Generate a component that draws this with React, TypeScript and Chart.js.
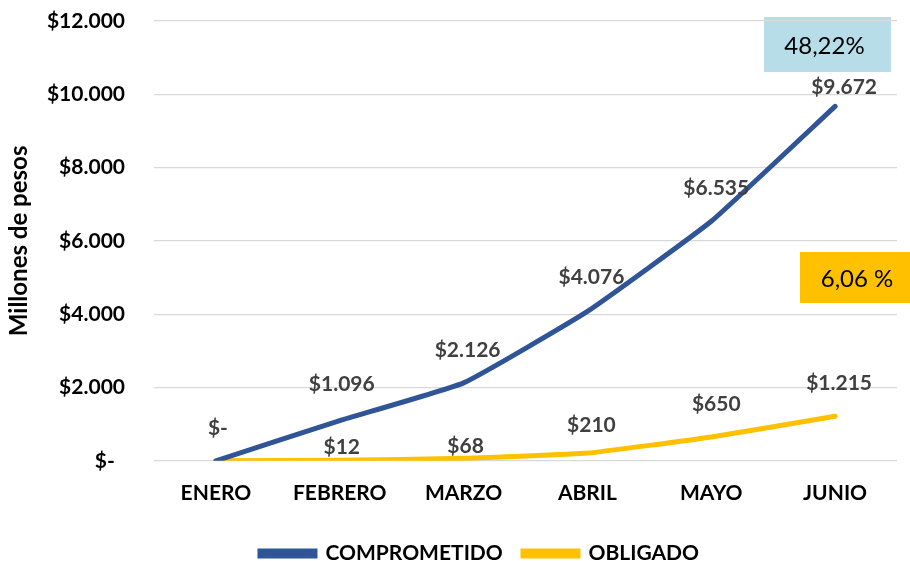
import React, { useEffect, useRef } from 'react';
import { Chart, registerables } from 'chart.js';

Chart.register(...registerables);

const months = ['ENERO', 'FEBRERO', 'MARZO', 'ABRIL', 'MAYO', 'JUNIO'];
const comprometido = [0, 1096, 2126, 4076, 6535, 9672];
const obligado = [0, 12, 68, 210, 650, 1215];
const yTickValues = [0, 2000, 4000, 6000, 8000, 10000, 12000];
const pctComprometido = '48,22%';
const pctObligado = '6,06 %';
const seriesNames = ['COMPROMETIDO', 'OBLIGADO'];
const yTitle = 'Millones de pesos';

const FONT = 'Lato, "Open Sans", sans-serif';

const fmt = (v: number) =>
  v === 0 ? '$-' : '$' + String(Math.round(v)).replace(/\B(?=(\d{3})+(?!\d))/g, '.');

const pointLabelsPlugin = {
  id: 'pointLabels',
  afterDatasetsDraw(chart: any) {
    const ctx = chart.ctx;
    chart.data.datasets.forEach((ds: any, i: number) => {
      const meta = chart.getDatasetMeta(i);
      const lo = ds.labelStyle;
      meta.data.forEach((pt: any, j: number) => {
        if (lo.hide[j]) return;
        ctx.save();
        ctx.font = `bold 21px ${FONT}`;
        ctx.fillStyle = '#404040';
        ctx.textAlign = 'center';
        ctx.textBaseline = 'middle';
        ctx.fillText(fmt(ds.data[j]), pt.x + lo.dx[j], pt.y - lo.dy[j]);
        ctx.restore();
      });
    });
  },
};

const boxesPlugin = {
  id: 'pctBoxes',
  afterLayout(chart: any) {
    if (chart.legend) {
      chart.legend.left += 31;
      chart.legend.right += 31;
    }
  },
  beforeDraw(chart: any) {
    const { ctx, chartArea } = chart;
    const boxes = [
      { text: pctComprometido, bg: '#B7DDE8', x: chartArea.right - 133, y: chartArea.top - 4, w: 127, h: 55, tx: -3, ty: 2 },
      { text: pctObligado, bg: '#FFC000', x: chartArea.right - 97, y: chartArea.top + 231, w: 110, h: 51, tx: 2, ty: 2 },
    ];
    boxes.forEach((b) => {
      ctx.save();
      ctx.fillStyle = b.bg;
      ctx.fillRect(b.x, b.y, b.w, b.h);
      ctx.fillStyle = '#000000';
      ctx.font = `24px ${FONT}`;
      ctx.textAlign = 'center';
      ctx.textBaseline = 'middle';
      ctx.fillText(b.text, b.x + b.w / 2 + b.tx, b.y + b.h / 2 + b.ty);
      ctx.restore();
    });
  },
};

export default function App() {
  const canvasRef = useRef<HTMLCanvasElement | null>(null);

  useEffect(() => {
    if (!canvasRef.current) return;
    const chart = new Chart(canvasRef.current, {
      type: 'line',
      data: {
        labels: months,
        datasets: [
          {
            label: seriesNames[0],
            data: comprometido,
            borderColor: '#2F5597',
            backgroundColor: '#2F5597',
            borderWidth: 5,
            borderCapStyle: 'round',
            pointRadius: 0,
            tension: 0.12,
            labelStyle: { dx: [2, 2, 4, 4, 5, 9], dy: [33, 36, 33, 34, 33, 19], hide: [false, false, false, false, false, false] },
          } as any,
          {
            label: seriesNames[1],
            data: obligado,
            borderColor: '#FFC000',
            backgroundColor: '#FFC000',
            borderWidth: 5,
            borderCapStyle: 'round',
            pointRadius: 0,
            tension: 0.12,
            labelStyle: { dx: [0, 2, 2, 4, 5, 4], dy: [0, 13, 12, 28, 33, 33], hide: [true, false, false, false, false, false] },
          } as any,
        ],
      },
      options: {
        animation: false,
        responsive: true,
        maintainAspectRatio: false,
        layout: { padding: { left: 0, right: 13, top: 0, bottom: -13 } },
        plugins: {
          legend: {
            position: 'bottom',
            labels: {
              boxWidth: 55,
              boxHeight: 5,
              color: '#000000',
              padding: 10,
              font: { family: FONT, size: 21, weight: 'bold' },
              generateLabels: (chart: any) => {
                const items = Chart.defaults.plugins.legend.labels.generateLabels(chart);
                return items.map((it: any, i: number) => ({ ...it, text: i === 0 ? it.text + '  ' : it.text }));
              },
            },
          },
          tooltip: { enabled: false },
        },
        scales: {
          x: {
            offset: true,
            grid: { display: false, drawTicks: false },
            border: { display: false },
            afterFit: (scale: any) => {
              scale.height += 7;
            },
            ticks: {
              color: '#000000',
              padding: 20,
              font: { family: FONT, size: 21, weight: 'bold' },
            },
          },
          y: {
            min: 0,
            max: 12000,
            afterBuildTicks: (scale: any) => {
              scale.ticks = yTickValues.map((v) => ({ value: v }));
            },
            afterFit: (scale: any) => {
              scale.width = 154;
              scale.paddingTop = 21;
              scale.paddingBottom = 12;
            },
            grid: { color: '#D9D9D9', lineWidth: 1.3, drawTicks: false },
            border: { display: false },
            title: {
              display: true,
              text: yTitle,
              color: '#000000',
              padding: { top: 5, bottom: 5 },
              font: { family: FONT, size: 24, weight: 'bold' },
            },
            ticks: {
              color: '#000000',
              padding: 29,
              font: { family: FONT, size: 21, weight: 'bold' },
              callback: (v: any) => (Number(v) === 0 ? '$-  ' : fmt(Number(v))),
            },
          },
        },
      } as any,
      plugins: [pointLabelsPlugin, boxesPlugin],
    });
    return () => chart.destroy();
  }, []);

  return (
    <div style={{ position: 'fixed', left: 0, top: 0, width: 910, height: 561, background: '#FFFFFF' }}>
      <canvas ref={canvasRef} />
    </div>
  );
}
